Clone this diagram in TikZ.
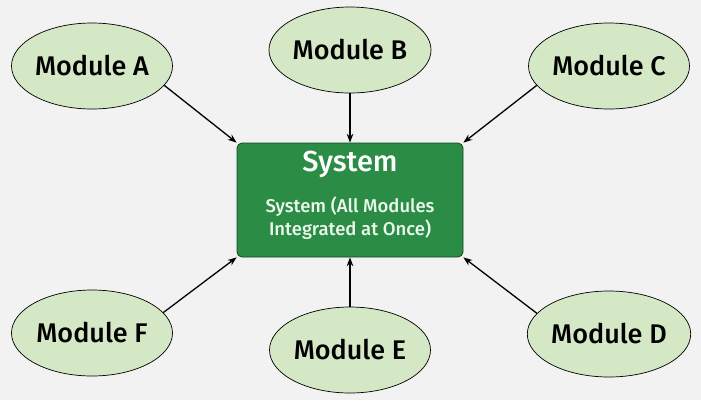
\documentclass[tikz,border=0pt]{standalone}
\usepackage{fontspec}
\setmainfont{Fira Sans}
\newfontfamily\medfont{Fira Sans Medium}
\usetikzlibrary{shapes.geometric, arrows.meta, positioning}
\definecolor{bgcol}{RGB}{242,242,242}
\definecolor{modfill}{RGB}{213,232,197}
\definecolor{sysfill}{RGB}{42,140,69}
\definecolor{sysdraw}{RGB}{20,70,35}
\definecolor{systext}{RGB}{235,248,235}
\tikzset{
  module/.style={ellipse, draw=black, fill=modfill, line width=0.7pt,
    minimum width=161pt, minimum height=86pt, inner sep=0pt,
    font=\fontsize{27}{32}\medfont},
  sysbox/.style={rectangle, draw=sysdraw, fill=sysfill, line width=0.8pt,
    minimum width=226pt, minimum height=114pt, rounded corners=5pt},
  arrow/.style={-Stealth, line width=1.3pt, color=black}
}
\begin{document}
\begin{tikzpicture}[x=1pt, y=-1pt]
  \fill[bgcol] (0,0) rectangle (701,400);
  \useasboundingbox (0,0) rectangle (701,400);
  % central system
  \node[sysbox] (sys) at (350,200) {};
  \node[font=\fontsize{29}{34}\medfont, text=white] (systitle) at (350,164) {System};
  \node[font=\fontsize{18.5}{23}\medfont, text=systext, align=center] (sysdesc) at (350,218)
    {System (All Modules\\Integrated at Once)};
  % modules
  \node[module] (modA) at (92,66) {Module A};
  \node[module] (modB) at (350,50) {Module B};
  \node[module] (modC) at (609,66) {Module C};
  \node[module] (modF) at (92,333) {Module F};
  \node[module] (modE) at (350,350) {Module E};
  \node[module] (modD) at (609,334) {Module D};
  % arrows
  \draw[arrow] (modA.-15) -- (sys.north west);
  \draw[arrow] (modB) -- (sys.north);
  \draw[arrow] (modC.-165) -- (sys.north east);
  \draw[arrow] (modF.16) -- (sys.south west);
  \draw[arrow] (modE) -- (sys.south);
  \draw[arrow] (modD.164) -- (sys.south east);
\end{tikzpicture}
\end{document}
